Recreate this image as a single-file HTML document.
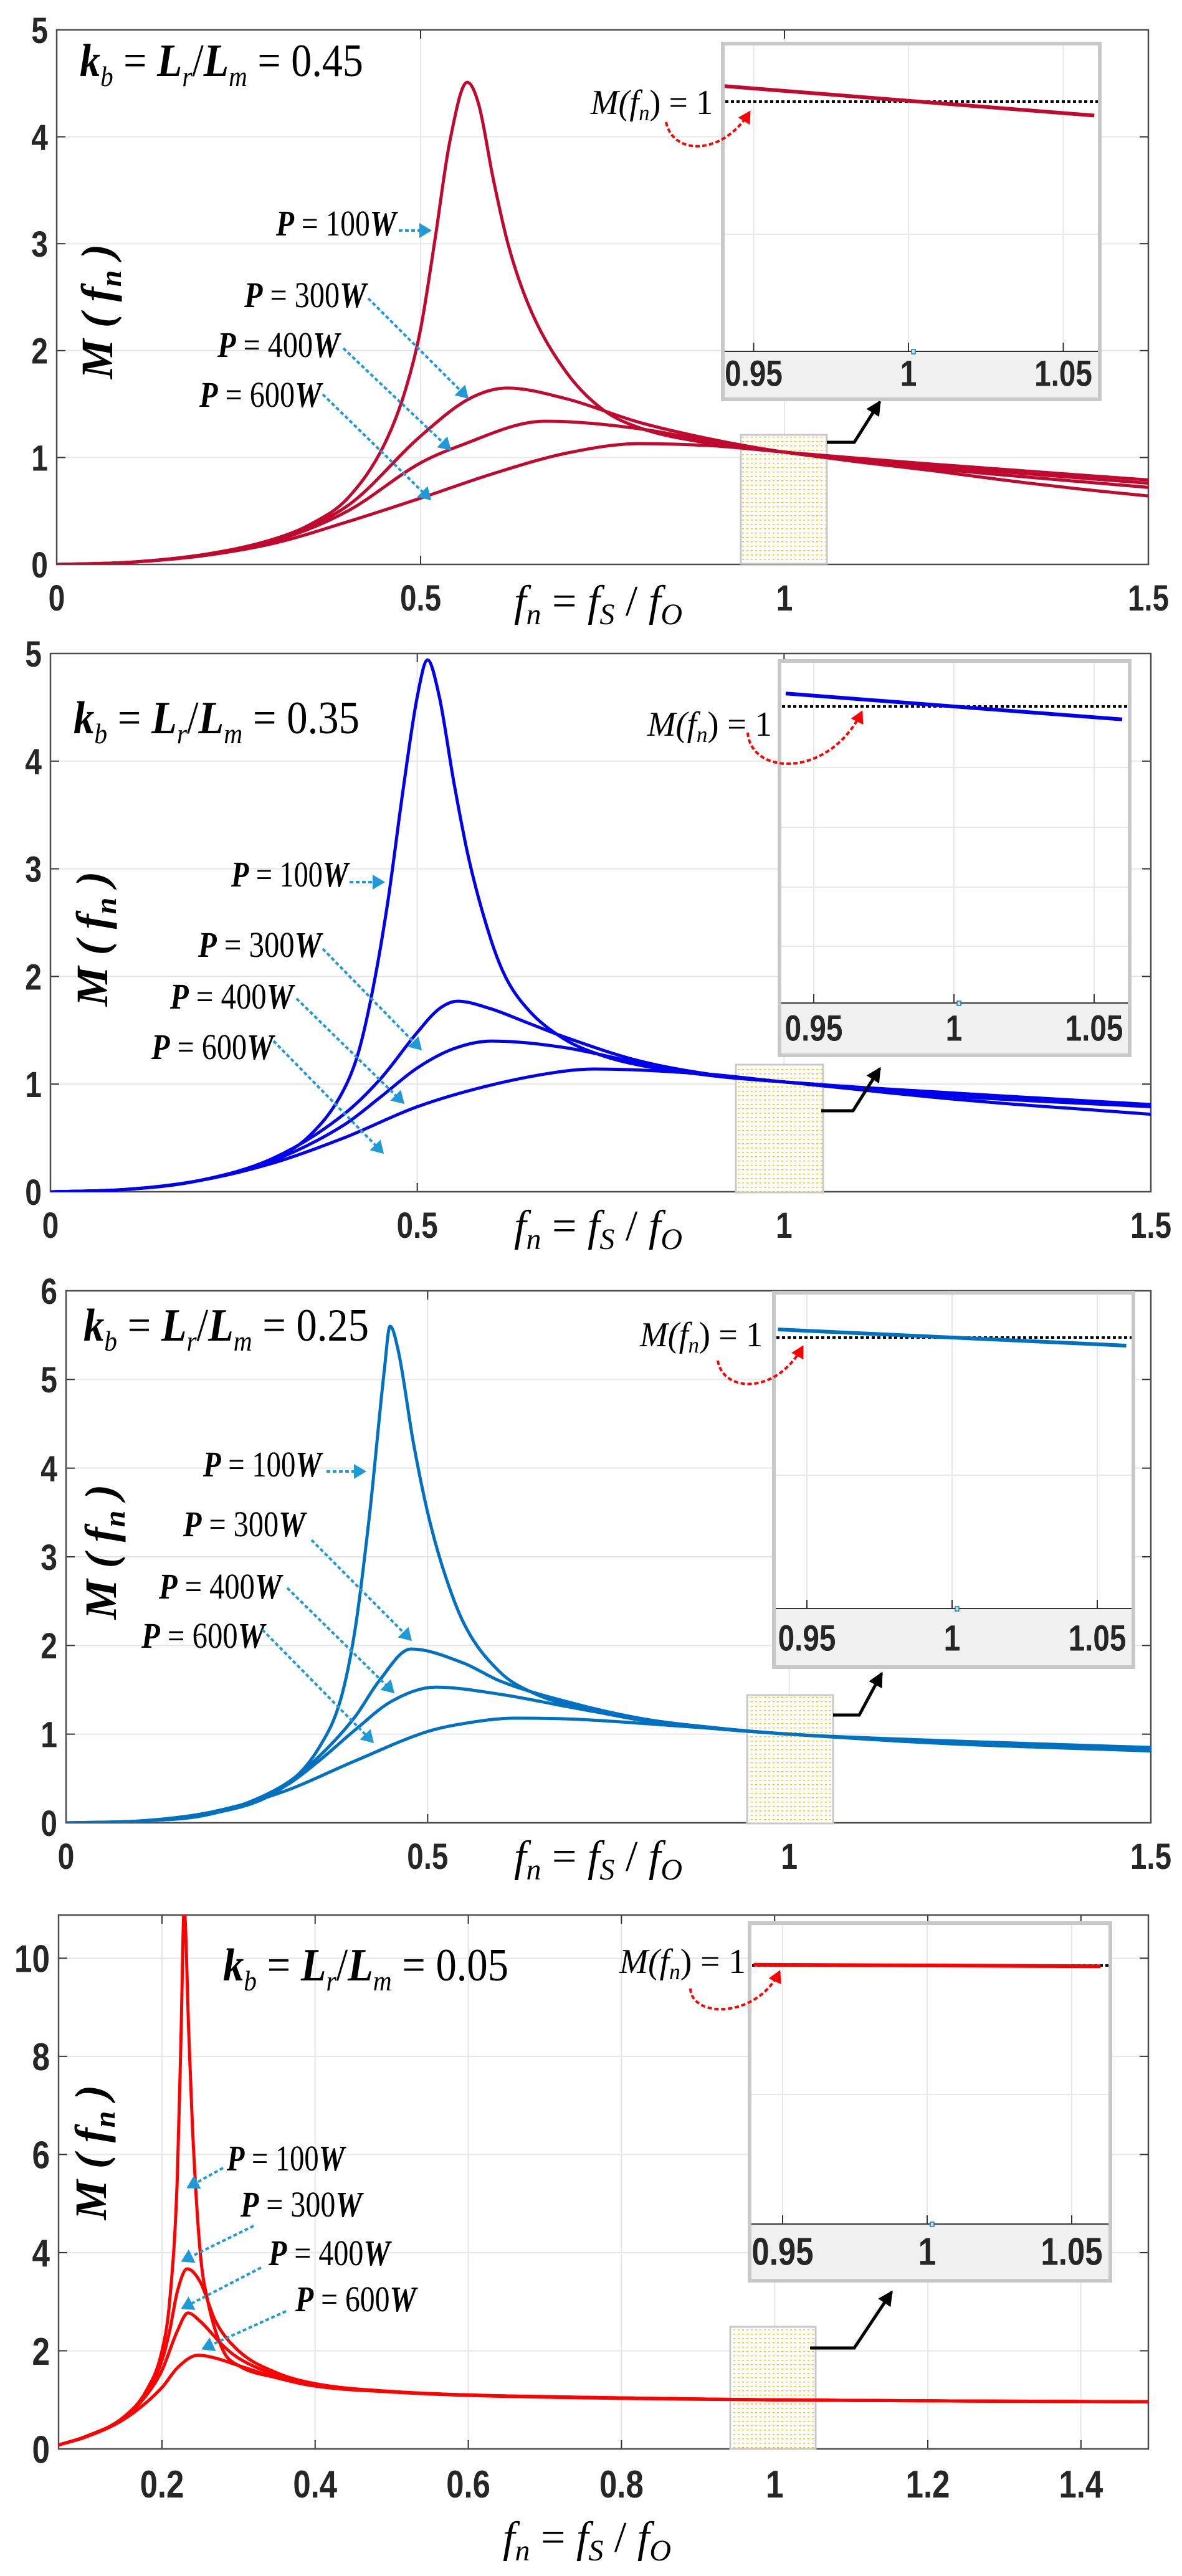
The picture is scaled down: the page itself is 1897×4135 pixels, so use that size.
<!DOCTYPE html>
<html><head><meta charset="utf-8"><style>
html,body{margin:0;padding:0;background:#fff}
svg{display:block}
.tk{font-family:"Liberation Sans",sans-serif;font-weight:bold;fill:#262626}
.it{font-family:"Liberation Serif",serif;font-style:italic;fill:#000}
</style></head><body>
<svg id="fig" width="1897" height="4135" viewBox="0 0 1897 4135" xmlns="http://www.w3.org/2000/svg">
<defs>
<pattern id="dots" width="7" height="7" patternUnits="userSpaceOnUse"><rect width="7" height="7" fill="#fff"/><rect x="1" y="1" width="3" height="1.5" fill="#f5c400"/></pattern>
<marker id="arB" markerWidth="8" markerHeight="8" refX="7" refY="4" orient="auto" markerUnits="userSpaceOnUse" viewBox="0 0 8 8" style="overflow:visible"><path d="M-10,-8 L10,4 L-10,16 Z" fill="#1f9ad6"/></marker>
<marker id="arR" markerWidth="8" markerHeight="8" refX="7" refY="4" orient="auto" markerUnits="userSpaceOnUse" viewBox="0 0 8 8" style="overflow:visible"><path d="M-10,-7 L10,4 L-10,15 Z" fill="#ff0000"/></marker>
<marker id="arK" markerWidth="8" markerHeight="8" refX="7" refY="4" orient="auto" markerUnits="userSpaceOnUse" viewBox="0 0 8 8" style="overflow:visible"><path d="M-14,-8 L10,4 L-14,16 Z" fill="#000"/></marker>
</defs>
<rect width="1897" height="4135" fill="#fff"/>
</svg>
<script>
// ---------- data ----------
// kb = 0.45
const k45_fn_100=[0,0.1,0.2,0.3,0.35,0.4,0.45,0.48,0.5,0.52,0.54,0.564,0.58,0.6,0.62,0.65,0.7,0.75,0.8,0.9,1.0,1.1,1.2,1.3,1.4,1.5];
const k45_m_100 =[0,0.02,0.09,0.24,0.38,0.62,1.12,1.65,2.2,3.05,3.95,4.51,4.3,3.6,3.0,2.4,1.8,1.45,1.28,1.13,1.05,0.96,0.88,0.79,0.71,0.64];
const k45_fn_300=[0,0.1,0.2,0.3,0.4,0.5,0.567,0.619,0.7,0.8,0.9,1.0,1.2,1.5];
const k45_m_300 =[0,0.02,0.09,0.24,0.55,1.2,1.55,1.65,1.55,1.33,1.17,1.05,0.9,0.72];
const k45_fn_400=[0,0.1,0.2,0.3,0.4,0.5,0.55,0.671,0.8,0.9,1.0,1.2,1.5];
const k45_m_400 =[0,0.02,0.09,0.22,0.5,0.95,1.1,1.34,1.27,1.15,1.05,0.92,0.76];
const k45_fn_600=[0,0.1,0.2,0.3,0.4,0.5,0.6,0.7,0.801,0.9,1.0,1.2,1.5];
const k45_m_600 =[0,0.02,0.08,0.2,0.4,0.62,0.85,1.04,1.13,1.11,1.05,0.94,0.79];
// kb = 0.35
const k35_fn_100=[0,0.1,0.2,0.3,0.35,0.4,0.42,0.44,0.46,0.48,0.5,0.514,0.53,0.55,0.57,0.6,0.62,0.65,0.7,0.75,0.8,0.9,1.0,1.1,1.2,1.3,1.4,1.5];
const k35_m_100 =[0,0.02,0.1,0.3,0.5,0.95,1.3,1.9,2.7,3.7,4.6,4.94,4.6,3.8,3.1,2.35,2.0,1.7,1.42,1.27,1.18,1.08,1.02,0.95,0.88,0.82,0.77,0.72];
const k35_fn_300=[0,0.1,0.2,0.3,0.4,0.45,0.5,0.53,0.555,0.6,0.65,0.7,0.8,0.9,1.0,1.2,1.5];
const k35_m_300 =[0,0.02,0.1,0.3,0.72,1.05,1.48,1.7,1.77,1.7,1.57,1.44,1.22,1.09,1.02,0.9,0.79];
const k35_fn_400=[0,0.1,0.2,0.3,0.4,0.45,0.5,0.55,0.602,0.7,0.8,0.9,1.0,1.2,1.5];
const k35_m_400 =[0,0.02,0.1,0.28,0.62,0.88,1.15,1.33,1.4,1.34,1.2,1.08,1.02,0.92,0.8];
const k35_fn_600=[0,0.1,0.2,0.3,0.4,0.5,0.6,0.7,0.741,0.9,1.0,1.2,1.5];
const k35_m_600 =[0,0.02,0.1,0.26,0.5,0.79,0.99,1.12,1.14,1.09,1.02,0.93,0.81];
// kb = 0.25
const k25_fn_100=[0,0.1,0.2,0.3,0.35,0.38,0.4,0.42,0.44,0.448,0.46,0.48,0.5,0.52,0.55,0.6,0.65,0.7,0.8,0.9,1.0,1.2,1.5];
const k25_m_100 =[0,0.02,0.1,0.4,0.85,1.4,2.2,3.5,5.1,5.6,5.3,4.3,3.5,2.9,2.25,1.7,1.45,1.32,1.15,1.06,1.0,0.9,0.81];
const k25_fn_300=[0,0.1,0.2,0.3,0.35,0.4,0.432,0.477,0.55,0.6,0.7,0.8,0.9,1.0,1.2,1.5];
const k25_m_300 =[0,0.02,0.1,0.42,0.75,1.2,1.59,1.96,1.8,1.6,1.35,1.17,1.07,1.0,0.92,0.83];
const k25_fn_400=[0,0.1,0.2,0.3,0.35,0.4,0.45,0.511,0.6,0.7,0.8,1.0,1.5];
const k25_m_400 =[0,0.02,0.1,0.4,0.7,1.05,1.37,1.53,1.45,1.3,1.16,1.0,0.84];
const k25_fn_600=[0,0.1,0.2,0.3,0.4,0.5,0.55,0.621,0.7,0.8,0.9,1.0,1.2,1.5];
const k25_m_600 =[0,0.02,0.12,0.35,0.7,1.03,1.12,1.18,1.17,1.12,1.06,1.0,0.93,0.85];
// kb = 0.05
const k05_fn_100=[0.065,0.1,0.15,0.18,0.2,0.21,0.22,0.225,0.229,0.235,0.24,0.25,0.26,0.28,0.3,0.35,0.4,0.5,0.6,0.8,1.0,1.2,1.488];
const k05_m_100 =[0.08,0.25,0.65,1.2,2.0,3.0,5.5,8.5,11.0,8.5,6.5,4.0,3.0,2.0,1.7,1.45,1.3,1.17,1.1,1.04,1.0,0.98,0.96];
const k05_fn_300=[0.065,0.1,0.15,0.18,0.2,0.21,0.22,0.233,0.25,0.27,0.3,0.35,0.4,0.5,0.6,0.8,1.0,1.2,1.488];
const k05_m_300 =[0.08,0.25,0.64,1.15,1.8,2.4,3.2,3.67,3.4,2.6,2.0,1.55,1.33,1.17,1.1,1.04,1.0,0.98,0.96];
const k05_fn_400=[0.065,0.1,0.15,0.18,0.2,0.22,0.234,0.25,0.28,0.3,0.35,0.4,0.5,0.6,0.8,1.0,1.2,1.488];
const k05_m_400 =[0.08,0.25,0.63,1.1,1.6,2.4,2.77,2.6,2.1,1.85,1.5,1.3,1.16,1.1,1.04,1.0,0.98,0.96];
const k05_fn_600=[0.065,0.1,0.15,0.2,0.22,0.247,0.27,0.3,0.35,0.4,0.5,0.6,0.8,1.0,1.2,1.488];
const k05_m_600 =[0.08,0.24,0.6,1.25,1.65,1.91,1.85,1.7,1.45,1.28,1.16,1.09,1.03,1.0,0.98,0.96];
// inset line values at fn = 0.94 and 1.06
const inset_fn=[0.94,1.06];
const k45_inset_m=[1.05,0.955];
const k35_inset_m=[1.04,0.96];
const k25_inset_m=[1.025,0.975];
const k05_inset_m=[1.002,0.998];
const kbValues=['0.45','0.35','0.25','0.05'];
const powerLabels=['100W','300W','400W','600W'];
const xTicksA=[0,0.5,1,1.5];
const yTicks5=[0,1,2,3,4,5];
const yTicks6=[0,1,2,3,4,5,6];
const xTicks4=[0.2,0.4,0.6,0.8,1,1.2,1.4];
const yTicks10=[0,2,4,6,8,10];
const insetTicks=[0.95,1,1.05];

// ---------- helpers ----------
const NS='http://www.w3.org/2000/svg';
const svg=document.getElementById('fig');
function mk(parent,tag,attrs){const e=document.createElementNS(NS,tag);for(const k in attrs)e.setAttribute(k,attrs[k]);parent.appendChild(e);return e;}
function tlen(s,fs){let w=0;for(const ch of s){w+=(ch==='.')?0.22:0.46;}return (w*fs).toFixed(1);}
function monoPath(px,py){
  const n=px.length;const d=[],m=new Array(n);
  for(let i=0;i<n-1;i++)d.push((py[i+1]-py[i])/(px[i+1]-px[i]));
  m[0]=d[0];m[n-1]=d[n-2];
  for(let i=1;i<n-1;i++){m[i]=(d[i-1]*d[i]<=0)?0:(d[i-1]+d[i])/2;}
  for(let i=0;i<n-1;i++){if(d[i]===0){m[i]=0;m[i+1]=0;continue;}const a=m[i]/d[i],b=m[i+1]/d[i],s=a*a+b*b;if(s>9){const t=3/Math.sqrt(s);m[i]=t*a*d[i];m[i+1]=t*b*d[i];}}
  let p='M'+px[0].toFixed(1)+','+py[0].toFixed(1);
  for(let i=0;i<n-1;i++){const h=px[i+1]-px[i];p+=' C'+(px[i]+h/3).toFixed(1)+','+(py[i]+m[i]*h/3).toFixed(1)+' '+(px[i+1]-h/3).toFixed(1)+','+(py[i+1]-m[i+1]*h/3).toFixed(1)+' '+px[i+1].toFixed(1)+','+py[i+1].toFixed(1);}
  return p;
}
function kbText(g,x,y,val,w){
  const t=mk(g,'text',{x:x,y:y,'class':'it','font-size':74,textLength:w,lengthAdjust:'spacingAndGlyphs'});
  t.innerHTML='<tspan font-weight="bold">k</tspan><tspan dy="16" font-size="46">b</tspan><tspan dy="-16" font-style="normal"> = </tspan><tspan font-weight="bold">L</tspan><tspan dy="16" font-size="46">r</tspan><tspan dy="-16" font-style="normal">/</tspan><tspan font-weight="bold">L</tspan><tspan dy="16" font-size="46">m</tspan><tspan dy="-16" font-style="normal"> = '+val+'</tspan>';
  return t;
}
function pText(g,x,y,val,w){
  const t=mk(g,'text',{x:x,y:y,'class':'it','font-size':58,textLength:w,lengthAdjust:'spacingAndGlyphs'});
  t.innerHTML='<tspan font-weight="bold">P</tspan><tspan font-style="normal"> = '+val.replace('W','')+'</tspan><tspan font-weight="bold">W</tspan>';
  return t;
}

function drawPanel(c){
  const g=mk(svg,'g',{});
  
  
  const X=v=>c.L+(v-c.xmin)/(c.xmax-c.xmin)*(c.R-c.L);
  const Y=v=>c.B-(v-c.ymin)/(c.ymax-c.ymin)*(c.B-c.T);
  const clipId='clip'+c.id;
  const cp=mk(g,'clipPath',{id:clipId});mk(cp,'rect',{x:c.L,y:c.T,width:c.R-c.L,height:c.B-c.T});
  c.xticks.forEach(v=>{
    const l=mk(g,'line',{x1:X(v),x2:X(v),y1:c.T,y2:c.B,stroke:'#e6e6e6','stroke-width':2});
    
    
    mk(g,'line',{x1:X(v),x2:X(v),y1:c.B,y2:c.B-14,stroke:'#333','stroke-width':2});
    mk(g,'line',{x1:X(v),x2:X(v),y1:c.T,y2:c.T+14,stroke:'#333','stroke-width':2});
    const s=String(v);
    const t=mk(g,'text',{x:X(v),y:c.B+c.xlabOff,'class':'tk','font-size':c.tfs,'text-anchor':'middle',textLength:tlen(s,c.tfs),lengthAdjust:'spacingAndGlyphs'});
    t.textContent=s;
    
    
  });
  c.yticks.forEach(v=>{
    const l=mk(g,'line',{x1:c.L,x2:c.R,y1:Y(v),y2:Y(v),stroke:'#e6e6e6','stroke-width':2});
    
    
    mk(g,'line',{x1:c.L,x2:c.L+14,y1:Y(v),y2:Y(v),stroke:'#333','stroke-width':2});
    mk(g,'line',{x1:c.R,x2:c.R-14,y1:Y(v),y2:Y(v),stroke:'#333','stroke-width':2});
    const s=String(v);
    const t=mk(g,'text',{x:c.L-14,y:Y(v)+c.tfs*0.36,'class':'tk','font-size':c.tfs,'text-anchor':'end',textLength:tlen(s,c.tfs),lengthAdjust:'spacingAndGlyphs'});
    t.textContent=s;
    
    
  });
  const box=mk(g,'rect',{x:c.L,y:c.T,width:c.R-c.L,height:c.B-c.T,fill:'none',stroke:'#4d4d4d','stroke-width':2.5});
  
  
  const yb=mk(g,'rect',{x:c.yb[0],y:c.yb[1],width:c.yb[2]-c.yb[0],height:c.yb[3]-c.yb[1],fill:'url(#dots)',stroke:'#c8c8c8','stroke-width':3});
  
  
  const cg=mk(g,'g',{'clip-path':'url(#'+clipId+')'});
  c.series.forEach((s,i)=>{
    const p=mk(cg,'path',{d:monoPath(s.fn.map(X),s.m.map(Y)),fill:'none',stroke:c.color,'stroke-width':5,'stroke-linejoin':'round'});
    
    
  });
  const ca=mk(g,'polyline',{points:c.conn.join(' '),fill:'none',stroke:'#000','stroke-width':5,'marker-end':'url(#arK)'});
  
  
  const ig=mk(g,'g',{});
  
  
  const I=c.inset;
  mk(ig,'rect',{x:I.x0,y:I.y0,width:I.x1-I.x0,height:I.y1-I.y0,fill:'#fff'});
  mk(ig,'rect',{x:I.x0,y:I.gray,width:I.x1-I.x0,height:I.y1-I.gray,fill:'#f0f0f0'});
  const IX=v=>I.t1+(v-1)*(I.t105-I.t095)/0.1;
  const IY=v=>I.one-(v-1)*I.sy;
  insetTicks.forEach(v=>{
    mk(ig,'line',{x1:IX(v),x2:IX(v),y1:I.y0,y2:I.gray,stroke:'#e8e8e8','stroke-width':2});
    mk(ig,'line',{x1:IX(v),x2:IX(v),y1:I.gray,y2:I.gray-14,stroke:'#333','stroke-width':2});
    const s=String(v);
    const t=mk(ig,'text',{x:IX(v),y:I.gray+(I.y1-I.gray)*0.72,'class':'tk','font-size':c.tfs,'text-anchor':'middle',textLength:tlen(s,c.tfs),lengthAdjust:'spacingAndGlyphs'});
    t.textContent=s;
    
    
  });
  I.hgrid.forEach(y=>mk(ig,'line',{x1:I.x0,x2:I.x1,y1:y,y2:y,stroke:'#e8e8e8','stroke-width':2}));
  mk(ig,'line',{x1:I.x0,x2:I.x1,y1:I.gray,y2:I.gray,stroke:'#333','stroke-width':2});
  const dl=mk(ig,'line',{x1:I.x0+4,x2:I.x1-2,y1:I.one,y2:I.one,stroke:'#000','stroke-width':4,'stroke-dasharray':'5 4'});
  
  
  const il=mk(ig,'path',{d:'M'+IX(inset_fn[0])+','+IY(c.insetM[0])+' L'+IX(inset_fn[1])+','+IY(c.insetM[1]),stroke:c.color,'stroke-width':6,fill:'none'});
  
  
  mk(ig,'rect',{x:I.x0,y:I.y0,width:I.x1-I.x0,height:I.y1-I.y0,fill:'none',stroke:'#c8c8c8','stroke-width':6});
  mk(ig,'rect',{x:IX(1)+5,y:I.gray-3,width:6,height:7,fill:'#bde3f5',stroke:'#1f7ab0','stroke-width':1.5});
  const ml=mk(g,'text',{x:c.ml[0],y:c.ml[1],'class':'it','font-size':56,textLength:c.ml[2],lengthAdjust:'spacingAndGlyphs'});
  ml.innerHTML='M(f<tspan dy="10" font-size="36">n</tspan><tspan dy="-10" font-style="normal">) = 1</tspan>';
  
  
  const ra=mk(g,'path',{d:c.arc,fill:'none',stroke:'#ff0000','stroke-width':4,'stroke-dasharray':'7 4','marker-end':'url(#arR)'});
  
  
  const kt=kbText(g,c.kb[0],c.kb[1],c.kbv,c.kb[2]);
  
  
  c.plab.forEach((pl,i)=>{
    const t=pText(g,pl[0],pl[1],powerLabels[i],pl[2]);
    
    
    const a=mk(g,'line',{x1:pl[3],y1:pl[4],x2:pl[5],y2:pl[6],stroke:'#1f9ad6','stroke-width':4,'stroke-dasharray':'6 4','marker-end':'url(#arB)'});
    
    
  });
  const yl=mk(g,'text',{x:0,y:0,'class':'it','font-size':72,'font-weight':'bold','text-anchor':'middle',transform:'translate('+c.yl[0]+','+c.yl[1]+') rotate(-90)'});
  yl.innerHTML='M ( f<tspan dy="14" font-size="48">n</tspan><tspan dy="-14"> )</tspan>';
  
  
  const xt=mk(g,'text',{x:c.xt[0],y:c.xt[1],'class':'it','font-size':70,'text-anchor':'middle'});
  xt.innerHTML='f<tspan dy="14" font-size="48">n</tspan><tspan dy="-14" font-style="normal"> = </tspan>f<tspan dy="14" font-size="48">S</tspan><tspan dy="-14" font-style="normal"> / </tspan>f<tspan dy="14" font-size="48">O</tspan>';
  
  
}

drawPanel({id:'045',color:'#c0092e',L:91,R:1843,T:48,B:906,xmin:0,xmax:1.5,ymin:0,ymax:5,xticks:xTicksA,yticks:yTicks5,tfs:58,xlabOff:74,
  series:[{fn:k45_fn_100,m:k45_m_100},{fn:k45_fn_300,m:k45_m_300},{fn:k45_fn_400,m:k45_m_400},{fn:k45_fn_600,m:k45_m_600}],insetM:k45_inset_m,
  yb:[1189,698,1327,905],conn:[[1327,710],[1371,710],[1412,645]],
  inset:{x0:1160,y0:70,x1:1765,y1:641,gray:564,t095:1210,t1:1458,t105:1707,one:163,sy:500,hgrid:[376]},
  ml:[948,183,196],arc:'M1069,196 C1080,250 1160,250 1203,180',kb:[128,122,455],kbv:'0.45',
  plab:[[443,378,193,640,370,690,370],[392,493,196,591,479,750,638],[349,573,196,551,559,722,721],[320,653,196,518,633,690,801]],
  yl:[180,500],xt:[960,988]});

drawPanel({id:'035',color:'#0000ee',L:81,R:1847,T:1049,B:1913,xmin:0,xmax:1.5,ymin:0,ymax:5,xticks:xTicksA,yticks:yTicks5,tfs:58,xlabOff:74,
  series:[{fn:k35_fn_100,m:k35_m_100},{fn:k35_fn_300,m:k35_m_300},{fn:k35_fn_400,m:k35_m_400},{fn:k35_fn_600,m:k35_m_600}],insetM:k35_inset_m,
  yb:[1181,1709,1321,1914],conn:[[1318,1783],[1369,1783],[1412,1715]],
  inset:{x0:1251,y0:1061,x1:1813,y1:1694,gray:1610,t095:1306,t1:1531,t105:1756,one:1134,sy:520,hgrid:[1232,1328,1424,1519]},
  ml:[1039,1181,200],arc:'M1200,1176 C1205,1245 1330,1250 1383,1143',kb:[118,1177,459],kbv:'0.35',
  plab:[[371,1423,188,561,1416,615,1416],[318,1536,198,518,1523,675,1684],[273,1619,198,476,1603,647,1770],[243,1700,196,439,1671,614,1850]],
  yl:[172,1507],xt:[960,1991]});

drawPanel({id:'025',color:'#0071c1',L:106,R:1847,T:2072,B:2926,xmin:0,xmax:1.5,ymin:0,ymax:6,xticks:xTicksA,yticks:yTicks6,tfs:58,xlabOff:74,
  series:[{fn:k25_fn_100,m:k25_m_100},{fn:k25_fn_300,m:k25_m_300},{fn:k25_fn_400,m:k25_m_400},{fn:k25_fn_600,m:k25_m_600}],insetM:k25_inset_m,
  yb:[1199,2721,1337,2927],conn:[[1337,2753],[1379,2753],[1415,2686]],
  inset:{x0:1242,y0:2075,x1:1819,y1:2676,gray:2582,t095:1296,t1:1528,t105:1762,one:2147,sy:520,hgrid:[2368]},
  ml:[1027,2161,197],arc:'M1152,2184 C1160,2235 1245,2240 1288,2162',kb:[134,2152,458],kbv:'0.25',
  plab:[[326,2370,190,524,2362,585,2362],[294,2466,196,500,2472,659,2632],[255,2566,197,461,2549,631,2716],[227,2645,198,421,2616,598,2796]],
  yl:[186,2491],xt:[960,3003]});

drawPanel({id:'005',color:'#ff0000',L:94,R:1843,T:3074,B:3931,xmin:0.065,xmax:1.488,ymin:0,ymax:10.88,xticks:xTicks4,yticks:yTicks10,tfs:62,xlabOff:78,
  series:[{fn:k05_fn_100,m:k05_m_100},{fn:k05_fn_300,m:k05_m_300},{fn:k05_fn_400,m:k05_m_400},{fn:k05_fn_600,m:k05_m_600}],insetM:k05_inset_m,
  yb:[1172,3735,1309,3931],conn:[[1300,3769],[1371,3769],[1431,3679]],
  inset:{x0:1203,y0:3087,x1:1782,y1:3661,gray:3570,t095:1258,t1:1488,t105:1722,one:3155,sy:600,hgrid:[3362]},
  ml:[994,3167,203],arc:'M1108,3192 C1110,3240 1215,3240 1251,3165',kb:[358,3179,458],kbv:'0.05',
  plab:[[364,3484,189,358,3480,302,3511],[386,3558,195,407,3573,293,3629],[431,3636,195,419,3640,293,3705],[474,3710,194,459,3710,326,3770]],
  yl:[170,3455],xt:[942,4096]});
</script>
</body></html>
